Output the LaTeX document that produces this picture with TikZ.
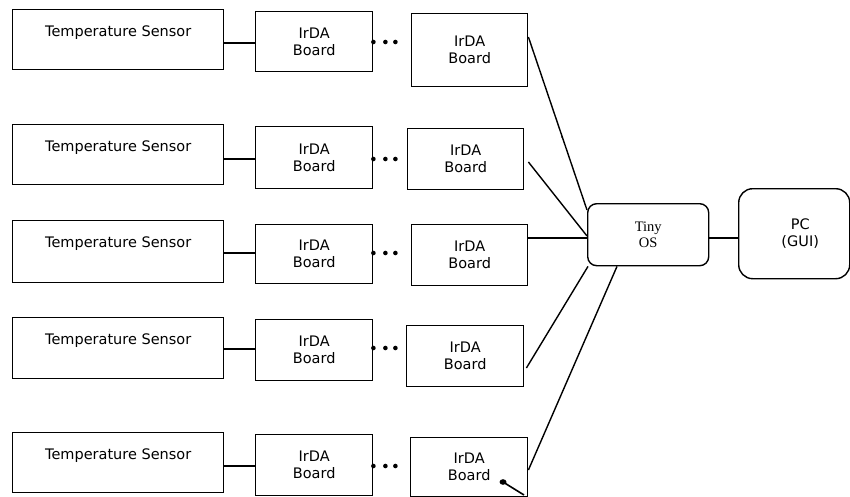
\documentclass[tikz,border=0pt]{standalone}
\usepackage{fontspec}
\setmainfont{DejaVu Sans}
\newfontfamily\serifface{Liberation Serif}
\begin{document}
\begin{tikzpicture}[x=1pt,y=-1pt,
  line width=1.4pt,
  box/.style={draw, line width=1.4pt, inner sep=0pt, anchor=north west, font=\fontsize{14.5}{17}\selectfont},
  tsbox/.style={box, text height=27pt},
  irbox/.style={box, align=center},
  osbox/.style={box, align=center, rounded corners=9pt, font=\serifface\fontsize{14.5}{16}\selectfont},
  pcbox/.style={box, align=center, rounded corners=14pt},
  link/.style={draw, line width=1.4pt},
  chaindot/.style={fill=black}
]
\useasboundingbox (0,0) rectangle (850,497);

% Row 1
\node[tsbox, minimum width=211pt, text depth=33pt] (ts1) at (12,9) {Temperature Sensor};
\node[irbox, minimum width=117pt, minimum height=60pt] (a1) at (255,11) {IrDA\\Board};
\node[irbox, minimum width=116pt, minimum height=73pt] (b1) at (411,13) {IrDA\\Board};
% Row 2
\node[tsbox, minimum width=211pt, text depth=33pt] (ts2) at (12,124) {Temperature Sensor};
\node[irbox, minimum width=117pt, minimum height=62pt] (a2) at (255,126) {IrDA\\Board};
\node[irbox, minimum width=116pt, minimum height=61pt] (b2) at (407,128) {IrDA\\Board};
% Row 3
\node[tsbox, minimum width=211pt, text depth=35pt] (ts3) at (12,220) {Temperature Sensor};
\node[irbox, minimum width=117pt, minimum height=59pt] (a3) at (255,224) {IrDA\\Board};
\node[irbox, minimum width=116pt, minimum height=61pt] (b3) at (411,224) {IrDA\\Board};
% Row 4
\node[tsbox, minimum width=211pt, text depth=34pt] (ts4) at (12,317) {Temperature Sensor};
\node[irbox, minimum width=117pt, minimum height=61pt] (a4) at (255,319) {IrDA\\Board};
\node[irbox, minimum width=117pt, minimum height=61pt] (b4) at (406,325) {IrDA\\Board};
% Row 5
\node[tsbox, minimum width=211pt, text depth=33pt] (ts5) at (12,432) {Temperature Sensor};
\node[irbox, minimum width=117pt, minimum height=61pt] (a5) at (255,434) {IrDA\\Board};
\node[irbox, minimum width=117pt, minimum height=59pt] (b5) at (410,437) {IrDA\\Board};

% Tiny OS and PC
\node[osbox, minimum width=121pt, minimum height=62pt] (os) at (587,203) {Tiny\\OS};
\node[pcbox, minimum width=111pt, minimum height=90pt] (pc) at (738,188) {\hspace*{12pt}PC\\\hspace*{12pt}(GUI)};

% Sensor to first board
\draw[link] (ts1.east |- 0,43) -- (a1.west |- 0,43);
\draw[link] (ts2.east |- 0,159) -- (a2.west |- 0,159);
\draw[link] (ts3.east |- 0,253) -- (a3.west |- 0,253);
\draw[link] (ts4.east |- 0,349) -- (a4.west |- 0,349);
\draw[link] (ts5.east |- 0,466) -- (a5.west |- 0,466);

% Chain dots
\foreach \r/\yy in {1/42,2/159,3/253,4/348,5/466}{
  \fill[chaindot] (a\r.east |- 0,\yy) circle (2.3);
  \fill[chaindot] ([xshift=12pt]a\r.east |- 0,\yy) circle (2.3);
  \fill[chaindot] ([xshift=22pt]a\r.east |- 0,\yy) circle (2.3);
}

% Boards to Tiny OS
\draw[link] (b1.east |- 0,37) -- (os.west |- 0,210);
\draw[link] ([xshift=4pt]b2.east |- 0,162) -- (os.west |- 0,236);
\draw[link] (b3.east |- 0,238) -- (os.west |- 0,238);
\draw[link] ([xshift=2pt]b4.east |- 0,368) -- ([xshift=1pt]os.south west);
\draw[link] (b5.east |- 0,470) -- ([xshift=30pt]os.south west);

% Tiny OS to PC
\draw[link] (os.east |- 0,238) -- (pc.west |- 0,238);

% scan marks
\fill (503,482) ellipse (3.5 and 2.8);
\draw[line width=1.6pt] (503,482) -- (524,495);
\fill (562,137) circle (0.9);
\end{tikzpicture}
\end{document}
